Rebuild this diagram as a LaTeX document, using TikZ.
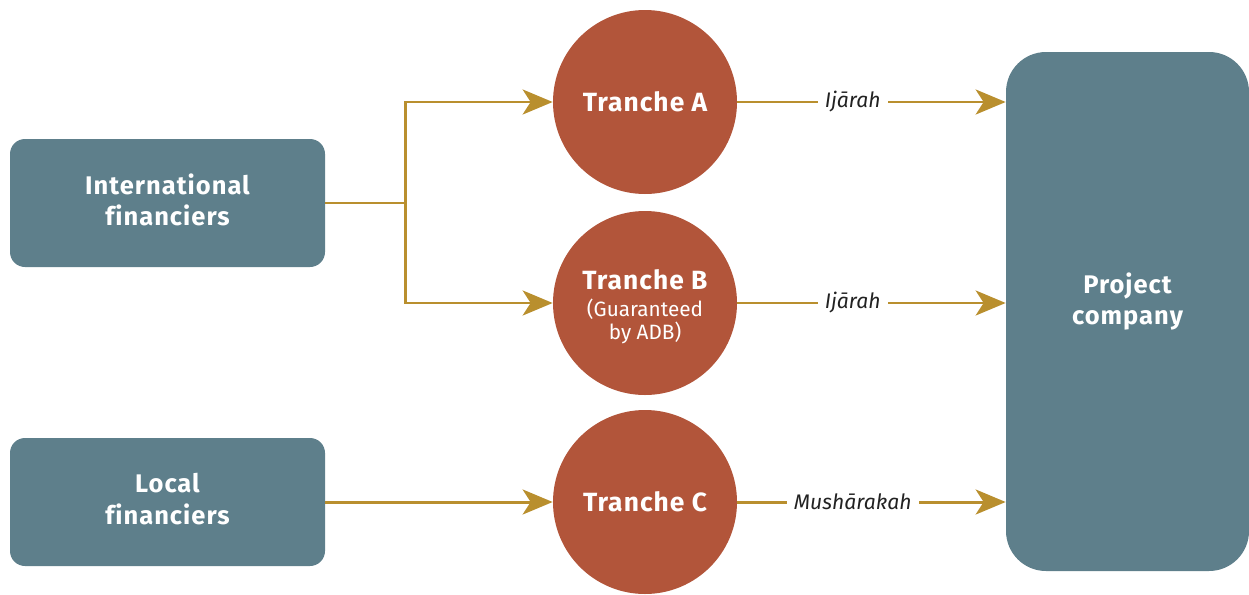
\documentclass[tikz,border=0pt]{standalone}
\usepackage{fontspec}
\setmainfont{Fira Sans}
\newfontfamily\headfont{Fira Sans}[LetterSpace=4,Ligatures=NoCommon]
\usetikzlibrary{arrows.meta}
\definecolor{slate}{HTML}{5E7F8B}
\definecolor{rust}{HTML}{B2553A}
\definecolor{gold}{HTML}{B98F2E}
\definecolor{ink}{HTML}{222222}
\tikzset{
  >={Stealth[length=6mm,width=5mm,inset=1.6mm]},
}
\tikzstyle{party}=[rectangle,rounded corners=3mm,fill=slate,text=white,
  font=\headfont\fontsize{14.5}{18}\selectfont\bfseries,align=center,inner sep=0pt]
\tikzstyle{tranche}=[circle,fill=rust,text=white,minimum size=3.68cm,
  inner sep=0pt,align=center,font=\headfont\fontsize{15}{19}\selectfont\bfseries]
\tikzstyle{flow}=[gold,line width=1.7pt,->]
\tikzstyle{kind}=[fill=white,text=ink,font=\fontsize{12}{14}\selectfont\itshape,inner sep=4pt]
\newcommand{\subnote}{\rmfamily\mdseries\fontsize{11.8}{14}\selectfont}

\begin{document}
\begin{tikzpicture}
        \useasboundingbox (0,0) rectangle (24.98,11.88);
        \node[party,minimum width=6.3cm,minimum height=2.56cm] (intl) at (3.35,7.82) {};
        \node[party,fill=none] (intltext) at ([yshift=.06cm]intl.center)
          {International\\financiers};
        \node[party,minimum width=6.3cm,minimum height=2.56cm] (local) at (3.35,1.84) {};
        \node[party,fill=none] (localtext) at ([yshift=.06cm]local.center)
          {Local\\financiers};
        \node[party,rounded corners=8mm,minimum width=4.86cm,minimum height=10.38cm]
          (proj) at (22.55,5.65) {};
        \node[party,fill=none] (projtext) at ([yshift=.2cm]proj.center) {Project\\company};
        \node[tranche] (trA) at (12.9,9.84) {Tranche A};
        \node[tranche] (trB) at (12.9,5.82) {};
        \node[tranche,fill=none,minimum size=0pt] (trBtext) at ([yshift=-.08cm]trB.center)
          {Tranche B\\[-4pt]{\subnote(Guaranteed}\\[-5.5pt]{\subnote by ADB)}};
        \node[tranche] (trC) at (12.9,1.84) {Tranche C};
        % financiers to tranches
        \coordinate (fork) at ([xshift=1.6cm]intl.east);
        \draw[gold,line width=1.7pt] (intl.east) -- (fork);
        \draw[flow] (fork) |- (trA.west);
        \draw[flow] (fork) |- (trB.west);
        \draw[flow] (local) -- (trC);
        % tranches to project company
        \draw[flow] (trA.east) -- (trA.east -| proj.west) node[kind,pos=.43]{Ijārah};
        \draw[flow] (trB.east) -- (trB.east -| proj.west) node[kind,pos=.43]{Ijārah};
        \draw[flow] (trC.east) -- (trC.east -| proj.west) node[kind,pos=.43]{Mushārakah};
      \end{tikzpicture}
\end{document}
